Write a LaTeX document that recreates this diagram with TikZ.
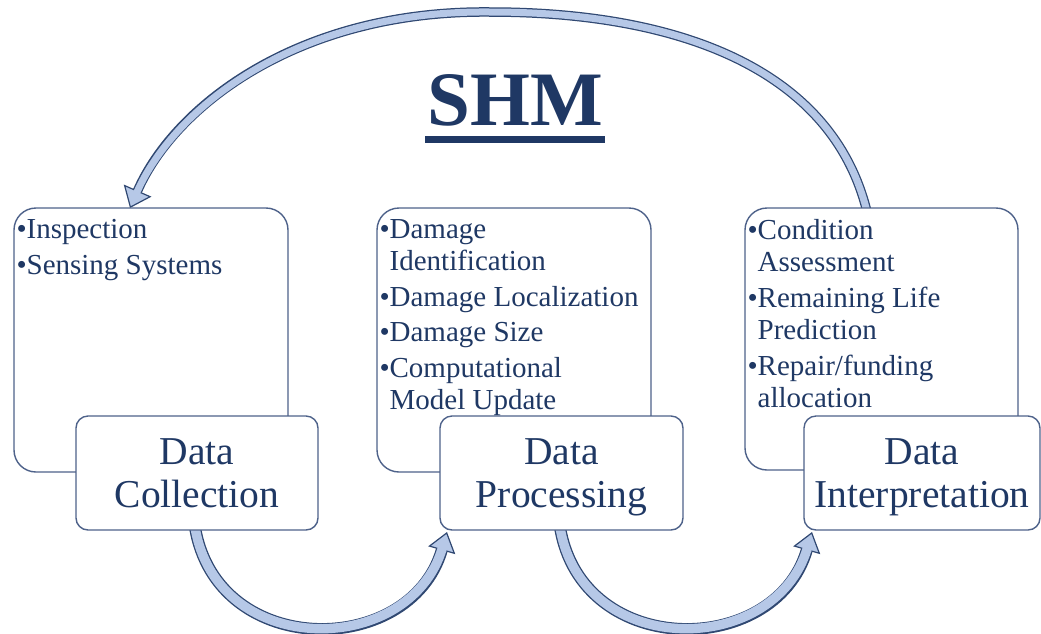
\documentclass[tikz,border=0pt]{standalone}
\usepackage{fontspec}
\setmainfont{Liberation Serif}
\usetikzlibrary{positioning,arrows.meta}

\definecolor{txtcol}{RGB}{31,56,100}
\definecolor{boxline}{RGB}{78,98,138}
\definecolor{arcfill}{RGB}{182,200,231}
\definecolor{arcline}{RGB}{48,72,114}

\tikzset{
  backbox/.style={draw=boxline, line width=1.4, fill=white, rounded corners=22,
                  minimum width=274, minimum height=264},
  frontbox/.style={draw=boxline, line width=1.4, fill=white, rounded corners=12,
                   minimum height=114, text=txtcol, align=center, text depth=0pt,
                   font=\fontsize{39.5}{43}\selectfont},
  itemlist/.style={anchor=north west, inner sep=0, align=left, text=txtcol,
                   font=\fontsize{29}{32}\selectfont},
  % light band with a dark rim: wide dark stroke first, light stroke on top
  topout/.style={line width=9.5, draw=arcline,
                 -{Triangle[length=19,width=30,line width=1.2,fill=arcfill]}},
  topin/.style={line width=7, draw=arcfill, shorten >=16},
  lowout/.style={line width=12, draw=arcline,
                 -{Triangle[length=19,width=28,line width=1.2,fill=arcfill]}},
  lowin/.style={line width=9.4, draw=arcfill, shorten >=16},
}
\newcommand{\cont}{\phantom{\textbullet}}

\begin{document}
\begin{tikzpicture}[x=1pt,y=1pt,yscale=-1,xscale=1]
  \useasboundingbox (0,0) rectangle (1041,633);

  % Connection (interpretation back to collection)
  \coordinate (topstart) at (868,216);
  \coordinate (topmid) at (490,12);
  \coordinate (topend) at (130,208);
  \draw[topout] (topstart) .. controls (835,70) and (680,12) .. (topmid)
                .. controls (300,10) and (175,105) .. (topend);
  \draw[topin] (topstart) .. controls (835,70) and (680,12) .. (topmid)
               .. controls (300,10) and (175,105) .. (topend);

  % Back boxes
  \node[backbox] (colback) at (151,340) {};
  \node[backbox] (procback) at (514,340) {};
  \node[backbox, minimum width=273, minimum height=262] (intback) at (881.5,339) {};

  % Title
  \node[text=txtcol, font=\bfseries\fontsize{77}{80}\selectfont, align=center] (title) at (515,109)
    {SHM\\[-63pt]\rule{180pt}{7pt}};

  % Connections along the bottom
  \coordinate (a1) at (194,520);
  \coordinate (b1) at (447,532);
  \coordinate (a2) at (559,520);
  \coordinate (b2) at (812,532);
  \draw[lowout] (a1) .. controls (210,660) and (410,660) .. (b1);
  \draw[lowin] (a1) .. controls (210,660) and (410,660) .. (b1);
  \draw[lowout] (a2) .. controls (575,660) and (775,660) .. (b2);
  \draw[lowin] (a2) .. controls (575,660) and (775,660) .. (b2);

  % Front boxes
  \node[frontbox, minimum width=242] (colfront) at (197,473) {Data\\Collection};
  \node[frontbox, minimum width=243] (procfront) at (561.5,473) {Data\\Processing};
  \node[frontbox, minimum width=236] (intfront) at (922,473) {Data\\Interpretation};

  % Item lists
  \node[itemlist] (collist) at ([xshift=3,yshift=12]colback.north west)
    {\textbullet Inspection\\[4pt]\textbullet Sensing Systems};
  \node[itemlist] (proclist) at ([xshift=3,yshift=12]procback.north west)
    {\textbullet Damage\\\cont Identification\\[4pt]\textbullet Damage Localization\\[3pt]%
     \textbullet Damage Size\\[4pt]\textbullet Computational\\\cont Model Update};
  \node[itemlist] (intlist) at ([xshift=3,yshift=12]intback.north west)
    {\textbullet Condition\\\cont Assessment\\[4pt]\textbullet Remaining Life\\\cont Prediction\\[4pt]%
     \textbullet Repair/funding\\\cont allocation};
\end{tikzpicture}
\end{document}
